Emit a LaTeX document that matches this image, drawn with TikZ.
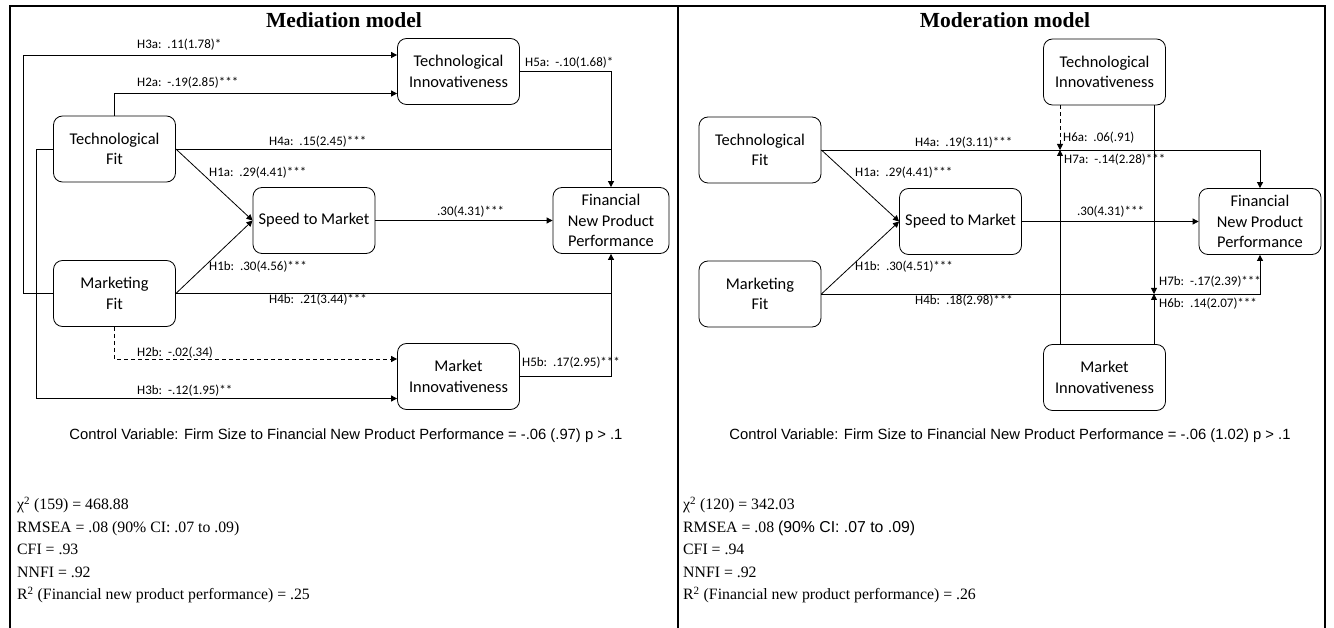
\documentclass[tikz,border=0pt]{standalone}
\usepackage{fontspec}
\setmainfont{Liberation Serif}
\newfontfamily\boxfont{Carlito}
\newfontfamily\notefont{Liberation Sans}
\usetikzlibrary{arrows.meta, positioning, calc}

\begin{document}
\begin{tikzpicture}[x=1pt, y=-1pt]
    \tikzstyle{construct} = [draw, rectangle, rounded corners=9pt, minimum width=122pt, minimum height=66pt, inner sep=2pt, align=center, line width=0.8pt, font=\boxfont\fontsize{16.4}{20.5}\selectfont]
    \tikzstyle{coef} = [anchor=west, inner sep=0pt, font=\boxfont\fontsize{13}{15}\selectfont]
    \tikzstyle{link} = [line width=0.8pt]
    \tikzstyle{arrow} = [link, -{Triangle[length=6pt, width=6pt]}]
    \tikzstyle{fitstats} = [anchor=north west, align=left, inner sep=0pt, font=\fontsize{15.8}{22.5}\selectfont]
    \tikzstyle{control} = [font=\notefont\fontsize{14.8}{17}\selectfont]
    \tikzstyle{paneltitle} = [font=\bfseries\fontsize{21.5}{24}\selectfont]

    \useasboundingbox (0,0) rectangle (1334,628);

    % outer frame and panel divider
    \draw[line width=1.1pt] (10,628) -- (10,6) -- (1325,6) -- (1325,628);
    \draw[line width=1.1pt] (678,6) -- (678,628);

    \node[paneltitle] (title1) at (344,20) {Mediation model};
    \node[paneltitle] (title2) at (1005,20) {Moderation model};

    %% mediation model
    \node[construct] (tfit) at (114.5,149) {Technological\\Fit};
    \node[construct] (ti) at (458.5,71.5) {Technological\\Innovativeness};
    \node[construct] (stm) at (314,220.5) {Speed to Market};
    \node[construct, minimum width=116pt] (fnpp) at (611,220.5) {Financial\\New Product\\Performance};
    \node[construct] (mfit) at (114.5,293.5) {Marketing\\Fit};
    \node[construct] (mi) at (458.5,376.5) {Market\\Innovativeness};

    \draw[arrow] (mfit.west) -- ++(-30,0) |- ([yshift=16.5pt]ti.west);
    \draw[arrow] (tfit.north) |- ([yshift=-22pt]ti.west);
    \draw[link] (tfit.east) -- (tfit.east -| fnpp.north);
    \draw[arrow] (ti.east) -| (fnpp.north);
    \draw[arrow] (tfit.east) -- (stm.west);
    \draw[arrow] (mfit.east) -- (stm.west);
    \draw[arrow] (stm) -- (fnpp);
    \draw[link] (mfit.east) -- (mfit.east -| fnpp.south);
    \draw[arrow] (mi.east) -| (fnpp.south);
    \draw[arrow, dash pattern=on 4pt off 3pt] (mfit.south) |- ([yshift=17.5pt]mi.west);
    \draw[arrow] (tfit.west) -- ++(-17,0) |- ([yshift=-22pt]mi.west);

    \node[coef] (l3a) at (137,45) {H3a:~~.11(1.78)*};
    \node[coef] (l2a) at (137,83) {H2a:~~-.19(2.85)***};
    \node[coef] (l5a) at (525,63) {H5a:~~-.10(1.68)*};
    \node[coef] (l4a) at (269,142) {H4a:~~.15(2.45)***};
    \node[coef] (l1a) at (209,173) {H1a:~~.29(4.41)***};
    \node[coef] (lsp) at (437,212) {.30(4.31)***};
    \node[coef] (l1b) at (209,267) {H1b:~~.30(4.56)***};
    \node[coef] (l4b) at (269,300) {H4b:~~.21(3.44)***};
    \node[coef] (l2b) at (137,353) {H2b:~~-.02(.34)};
    \node[coef] (l5b) at (522,363) {H5b:~~.17(2.95)***};
    \node[coef] (l3b) at (137,391) {H3b:~~-.12(1.95)**};

    \node[control] (ctrl1) at (346,436) {Control Variable: Firm Size to Financial New Product Performance = -.06 (.97) p > .1};
    \node[fitstats] (stats1) at (17,497) {χ\textsuperscript{2} (159) = 468.88\\RMSEA = .08 (90\% CI: .07 to .09)\\CFI = .93\\NNFI = .92\\R\textsuperscript{2} (Financial new product performance) = .25};

    %% moderation model
    \node[construct] (tfit2) at (760,150) {Technological\\Fit};
    \node[construct] (ti2) at (1104.5,72) {Technological\\Innovativeness};
    \node[construct] (stm2) at (960.5,221.5) {Speed to Market};
    \node[construct] (fnpp2) at (1260,221.5) {Financial\\New Product\\Performance};
    \node[construct] (mfit2) at (760,294) {Marketing\\Fit};
    \node[construct] (mi2) at (1104.5,377.5) {Market\\Innovativeness};

    \draw[arrow] (tfit2.east) -| (fnpp2.north);
    \draw[arrow] (tfit2.east) -- (stm2.west);
    \draw[arrow] (mfit2.east) -- (stm2.west);
    \draw[arrow] (stm2) -- (fnpp2);
    \draw[arrow] (mfit2.east) -| (fnpp2.south);
    % moderators hitting the direct paths
    \draw[arrow, dash pattern=on 4pt off 3pt] ([xshift=-44.5pt]ti2.south) -- ([xshift=-44.5pt]ti2.south |- tfit2.east);
    \draw[arrow] ([xshift=-44.5pt]mi2.north) -- ([xshift=-44.5pt]mi2.north |- tfit2.east);
    \draw[arrow] ([xshift=49.5pt]ti2.south) -- ([xshift=49.5pt]ti2.south |- mfit2.east);
    \draw[arrow] ([xshift=49.5pt]mi2.north) -- ([xshift=49.5pt]mi2.north |- mfit2.east);

    \node[coef] (m6a) at (1063,138) {H6a:~~.06(.91)};
    \node[coef] (m4a) at (915,143) {H4a:~~.19(3.11)***};
    \node[coef] (m7a) at (1064,160) {H7a:~~-.14(2.28)***};
    \node[coef] (m1a) at (855,173) {H1a:~~.29(4.41)***};
    \node[coef] (msp) at (1077,212) {.30(4.31)***};
    \node[coef] (m1b) at (855,267) {H1b:~~.30(4.51)***};
    \node[coef] (m7b) at (1159,282) {H7b:~~-.17(2.39)***};
    \node[coef] (m4b) at (915,301) {H4b:~~.18(2.98)***};
    \node[coef] (m6b) at (1159,304) {H6b:~~.14(2.07)***};

    \node[control] (ctrl2) at (1010,436) {Control Variable: Firm Size to Financial New Product Performance = -.06 (1.02) p > .1};
    \node[fitstats] (stats2) at (683,497) {χ\textsuperscript{2} (120) = 342.03\\RMSEA = .08 {\notefont (90\% CI: .07 to .09)}\\CFI = .94\\NNFI = .92\\R\textsuperscript{2} (Financial new product performance) = .26};
\end{tikzpicture}
\end{document}
